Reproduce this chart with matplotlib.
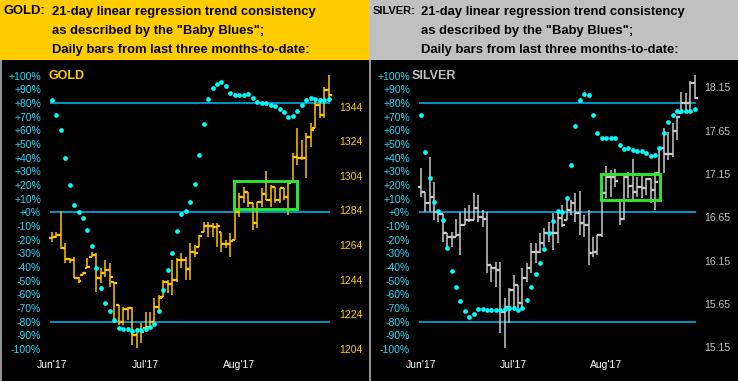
import matplotlib
matplotlib.use('Agg')
import matplotlib.pyplot as plt
from matplotlib.patches import Rectangle
from matplotlib.lines import Line2D

plt.rcParams['font.family'] = ['Liberation Sans', 'DejaVu Sans']

# ---- data (63 trading days, Jun..Aug 2017) ----
months = ["Jun'17", "Jul'17", "Aug'17"]
month_pos = [0, 21, 42]
pct_ticks = list(range(-100, 101, 10))

gold_trend = [82, 71.5, 60.5, 40, 20, 5.6, 0, -4, -12.7, -24.4, -40.5, -55, -66,
              -72.4, -79, -84.4, -85, -85, -86.6, -85.8, -86, -85, -84, -81.5, -72,
              -57, -42, -29.5, -14, -1.5, 1.2, 7.8, 21, 42, 65, 83, 91, 94, 95.6,
              92.7, 87.6, 86, 86, 86, 86.8, 83.9, 81, 80.2, 80.2, 78.8, 78, 75.8,
              73.6, 70, 70.7, 74.4, 78.8, 82.4, 83.9, 83.2, 82.4, 82.4, 83.2]
gold_high = [1271.7, 1271.7, 1283.9, 1265.0, 1256.6, 1257.2, 1245.6, 1248.5, 1256.3,
             1260.1, 1259.2, 1250.5, 1255.3, 1253.4, 1242.7, 1229.2, 1228.2, 1228.2,
             1228.2, 1215.7, 1218.6, 1225.4, 1225.4, 1233.1, 1235.0, 1243.7, 1243.7,
             1255.3, 1256.3, 1259.2, 1257.2, 1265.0, 1264.0, 1269.8, 1277.5, 1277.5,
             1276.6, 1276.6, 1271.7, 1266.9, 1270.8, 1286.2, 1294.0, 1297.8, 1294.9,
             1288.2, 1289.1, 1296.9, 1306.9, 1298.8, 1297.8, 1296.9, 1296.9, 1299.8,
             1317.1, 1331.6, 1324.9, 1328.7, 1334.5, 1349.0, 1347.1, 1355.7, 1362.5]
gold_low = [1265.9, 1267.9, 1261.5, 1253.4, 1253.4, 1244.7, 1241.8, 1246.6, 1250.5,
            1257.2, 1237.0, 1241.8, 1245.6, 1239.8, 1218.6, 1217.6, 1217.6, 1220.5,
            1206.0, 1204.1, 1207.0, 1215.7, 1215.7, 1217.6, 1226.3, 1234.0, 1236.0,
            1235.0, 1242.7, 1250.5, 1243.7, 1243.7, 1257.2, 1263.0, 1271.7, 1268.8,
            1268.8, 1263.0, 1260.1, 1262.1, 1257.2, 1266.9, 1280.4, 1288.2, 1286.2,
            1272.7, 1273.7, 1286.2, 1290.1, 1286.2, 1288.2, 1288.2, 1290.1, 1281.4,
            1300.7, 1310.4, 1313.3, 1302.7, 1321.0, 1331.6, 1337.4, 1337.4, 1347.1]
gold_open = [1268.0, 1268.8, 1269.6, 1262.4, 1255.7, 1255.3, 1245.0, 1246.6, 1250.5,
             1257.2, 1258.2, 1244.7, 1247.6, 1249.5, 1242.7, 1229.2, 1219.2, 1226.7,
             1227.3, 1211.9, 1214.7, 1215.7, 1216.7, 1219.5, 1228.2, 1234.0, 1242.7,
             1241.4, 1243.7, 1255.3, 1255.3, 1249.9, 1260.1, 1263.0, 1271.7, 1275.0,
             1275.0, 1274.6, 1271.7, 1264.4, 1264.4, 1266.9, 1283.3, 1292.0, 1294.9,
             1288.2, 1276.9, 1289.1, 1293.4, 1290.1, 1297.8, 1290.1, 1296.9, 1292.0,
             1300.7, 1315.2, 1314.2, 1314.2, 1326.8, 1331.6, 1345.1, 1339.3, 1353.8]
gold_close = [1268.8, 1269.6, 1262.4, 1255.7, 1255.3, 1245.0, 1243.3, 1247.6, 1251.4,
              1258.2, 1244.7, 1247.6, 1249.5, 1245.6, 1241.8, 1219.2, 1226.7, 1227.3,
              1211.9, 1214.7, 1213.8, 1216.7, 1219.5, 1228.2, 1233.1, 1242.7, 1241.4,
              1243.7, 1255.3, 1255.3, 1249.9, 1260.1, 1259.2, 1269.2, 1275.0, 1275.0,
              1274.6, 1275.0, 1264.4, 1264.4, 1266.5, 1283.3, 1292.0, 1294.9, 1288.2,
              1276.9, 1289.1, 1293.4, 1290.1, 1297.8, 1290.1, 1296.9, 1292.0, 1299.8,
              1315.2, 1314.2, 1314.2, 1326.8, 1330.6, 1345.1, 1339.3, 1353.8, 1350.9]
gold_price_ticks = [1204, 1224, 1244, 1264, 1284, 1304, 1324, 1344]

silver_trend = [71.5, 44.4, 24.9, 7.8, 1, -5.7, -25.9, -42.7, -54.4, -64.7, -72,
                -76.4, -74.2, -70.6, -70.6, -71.3, -71.3, -71.3, -71.3, -70.6, -69.8,
                -69.8, -71.3, -69.8, -63.9, -54.4, -44.9, -36.8, -26.6, -14.9, -6,
                0.8, 0.5, 10.7, 34.3, 63.4, 82.2, 86.8, 86.1, 71.5, 58.3, 54.7, 54.7,
                54.7, 54.7, 49.6, 46.6, 47.4, 45.9, 45.2, 45.2, 43.7, 41.5, 42.3, 47.4,
                58.3, 66.4, 71.5, 74.4, 74.4, 74.4, 74.4, 75.8]
silver_high = [17.216, 16.946, 17.35, 17.061, 16.734, 16.688, 16.465, 16.484, 16.627,
               16.715, 16.754, 16.792, 16.927, 16.908, 16.734, 16.715, 16.099, 16.137,
               16.137, 15.715, 15.83, 15.984, 15.868, 16.061, 16.119, 16.35, 16.35,
               16.465, 16.523, 16.599, 16.696, 16.734, 16.792, 16.869, 16.85, 16.927,
               16.954, 16.677, 16.734, 16.426, 16.45, 16.95, 17.242, 17.196, 17.204,
               16.85, 17.158, 17.177, 17.32, 17.119, 17.138, 17.1, 17.096, 17.177,
               17.447, 17.678, 17.638, 17.735, 17.82, 18.093, 18.082, 18.227, 18.293]
silver_low = [16.888, 16.715, 16.715, 16.619, 16.596, 16.368, 16.292, 16.311, 16.426,
              16.215, 16.561, 16.599, 16.619, 16.599, 16.541, 16.003, 15.906, 15.849,
              15.311, 15.137, 15.426, 15.58, 15.599, 15.618, 15.906, 16.003, 16.119,
              16.234, 16.311, 16.368, 16.272, 16.35, 16.541, 16.619, 16.677, 16.599,
              16.446, 16.426, 16.099, 16.195, 16.22, 16.42, 16.869, 16.888, 17.003,
              16.561, 16.619, 16.869, 16.83, 16.888, 16.876, 16.908, 16.812, 16.734,
              17.158, 17.158, 17.312, 17.35, 17.543, 17.851, 17.869, 17.889, 18.013]
silver_open = [17.0, 16.946, 16.812, 16.888, 16.715, 16.688, 16.465, 16.426, 16.426,
               16.446, 16.561, 16.619, 16.619, 16.754, 16.657, 16.627, 16.099, 16.061,
               16.041, 15.56, 15.618, 15.811, 15.868, 15.657, 15.946, 16.061, 16.253,
               16.253, 16.35, 16.465, 16.465, 16.465, 16.638, 16.619, 16.734, 16.812,
               16.696, 16.581, 16.561, 16.241, 16.253, 16.44, 16.934, 17.112, 17.112,
               16.85, 16.627, 17.119, 17.011, 16.946, 17.003, 16.985, 17.089, 16.965,
               17.158, 17.447, 17.377, 17.377, 17.65, 17.851, 17.973, 17.966, 18.204]
silver_close = [16.946, 16.812, 16.888, 16.715, 16.688, 16.465, 16.426, 16.426, 16.446,
                16.561, 16.619, 16.619, 16.754, 16.657, 16.627, 16.099, 16.061, 16.041,
                15.56, 15.618, 15.811, 15.868, 15.657, 15.946, 16.061, 16.253, 16.253,
                16.35, 16.465, 16.465, 16.465, 16.638, 16.561, 16.734, 16.812, 16.696,
                16.581, 16.561, 16.241, 16.253, 16.44, 16.934, 17.112, 17.112, 17.073,
                16.627, 17.119, 17.011, 16.946, 17.003, 16.985, 17.089, 16.965, 17.061,
                17.447, 17.377, 17.377, 17.65, 17.812, 17.973, 17.966, 18.204, 18.024]
silver_price_ticks = [15.15, 15.65, 16.15, 16.65, 17.15, 17.65, 18.15]

# highlighted consolidation boxes: (first day, last day, low, high)
gold_box = (40.8, 54.8, 1284.9, 1300.9)
silver_box = (40.9, 54.2, 16.85, 17.147)

header_lines = ['21-day linear regression trend consistency',
                'as described by the "Baby Blues";',
                'Daily bars from last three months-to-date:']

# ---- figure ----
W, H = 738, 381
fig = plt.figure(figsize=(W / 100, H / 100), dpi=100, facecolor='black')

CYAN_TXT = '#22DDFF'
CYAN_LINE = '#00BFFF'
CYAN_DOT = '#00FFFF'
GREEN = '#2EE62E'


def px_axes(l, t, r, b):
    return fig.add_axes([l / W, 1 - b / H, (r - l) / W, (b - t) / H])


def header(x0, w, color, tag, tag_x, tag_size):
    fig.add_artist(Rectangle((x0 / W, 1 - 60 / H), w / W, 60 / H,
                             transform=fig.transFigure, color=color, lw=0))
    fig.text(tag_x / W, 1 - 11.5 / H, tag, ha='left', va='center',
             fontsize=tag_size, fontweight='bold', color='black')
    for yy, s in zip([11.5, 31, 50], header_lines):
        fig.text((x0 + 51.7) / W, 1 - yy / H, s, ha='left', va='center',
                 fontsize=9.4, fontweight='bold', color='black')


def panel(x0, right, xlim, plim, hi, lo, op, cl, trend, pticks, fmt,
          name, name_x, ncolor, bcolor, box):
    ax = px_axes(x0 + 45, 62, x0 + right, 372)
    ax.set_facecolor('black')
    ax.set_xlim(*xlim)
    ax.set_ylim(-116.82, 110.01)
    for s in ax.spines.values():
        s.set_visible(False)
    ax.set_xticks([])
    ax.set_yticks(pct_ticks)
    ax.set_yticklabels([('+%d%%' % v) if v >= 0 else ('%d%%' % v) for v in pct_ticks])
    ax.tick_params(axis='y', length=0, pad=2.9, labelsize=7.5, labelcolor=CYAN_TXT)

    ax2 = ax.twinx()
    ax2.set_ylim(*plim)
    for s in ax2.spines.values():
        s.set_visible(False)
    ax2.set_yticks(pticks)
    ax2.set_yticklabels([fmt % v for v in pticks])
    ax2.tick_params(axis='y', length=0, pad=3.0, labelsize=7.5, labelcolor=ncolor)

    n = len(cl)
    days = list(range(n))
    # reference levels (percent scale)
    ax2.hlines([80, 0, -80], -0.3, n - 0.7, colors=CYAN_LINE, lw=1.1,
               transform=ax.transData, zorder=1)
    # OHLC bars (price scale)
    ax2.vlines(days, lo, hi, colors=bcolor, lw=1.1, zorder=2)
    ax2.hlines(op, [d - 0.65 for d in days], days, colors=bcolor, lw=1.6, zorder=2)
    ax2.hlines(cl, days, [d + 0.65 for d in days], colors=bcolor, lw=1.6, zorder=2)
    # consolidation box
    ax2.add_patch(Rectangle((box[0], box[2]), box[1] - box[0], box[3] - box[2],
                            fill=False, ec=GREEN, lw=2.1, zorder=3))
    # Baby Blues
    ax2.plot(days, trend, 'o', color=CYAN_DOT, ms=3.4, mew=0,
             transform=ax.transData, zorder=4)

    for p, m in zip(month_pos, months):
        ax.text(p, -111.7, m, ha='center', va='center', color='white', fontsize=7.5)
    fig.text((x0 + name_x) / W, 1 - 76 / H, name, ha='left', va='center',
             color=ncolor, fontsize=9, fontweight='bold')


header(0, 369, '#FFCC00', 'GOLD:', 4, 9.4)
header(369, 369, '#C0C0C0', 'SILVER:', 372.3, 8.0)

panel(0, 335, (-1.5, 63.41), (1190.4, 1370.06), gold_high, gold_low, gold_open,
      gold_close, gold_trend, gold_price_ticks, '%d', 'GOLD', 48.3, '#FFCC00',
      '#FFC400', gold_box)
panel(369, 331, (-1.516, 63.2), (14.8636, 18.4433), silver_high, silver_low,
      silver_open, silver_close, silver_trend, silver_price_ticks, '%.2f', 'SILVER',
      42.7, '#C0C0C0', '#C8C8C8', silver_box)

# panel borders
for xx in [0.5, 369.5]:
    fig.add_artist(Line2D([xx / W, xx / W], [0, 1 - 60 / H], transform=fig.transFigure,
                          color='#C0C0C0', lw=1.1))

fig.savefig('out.png', dpi=100, facecolor='black')
